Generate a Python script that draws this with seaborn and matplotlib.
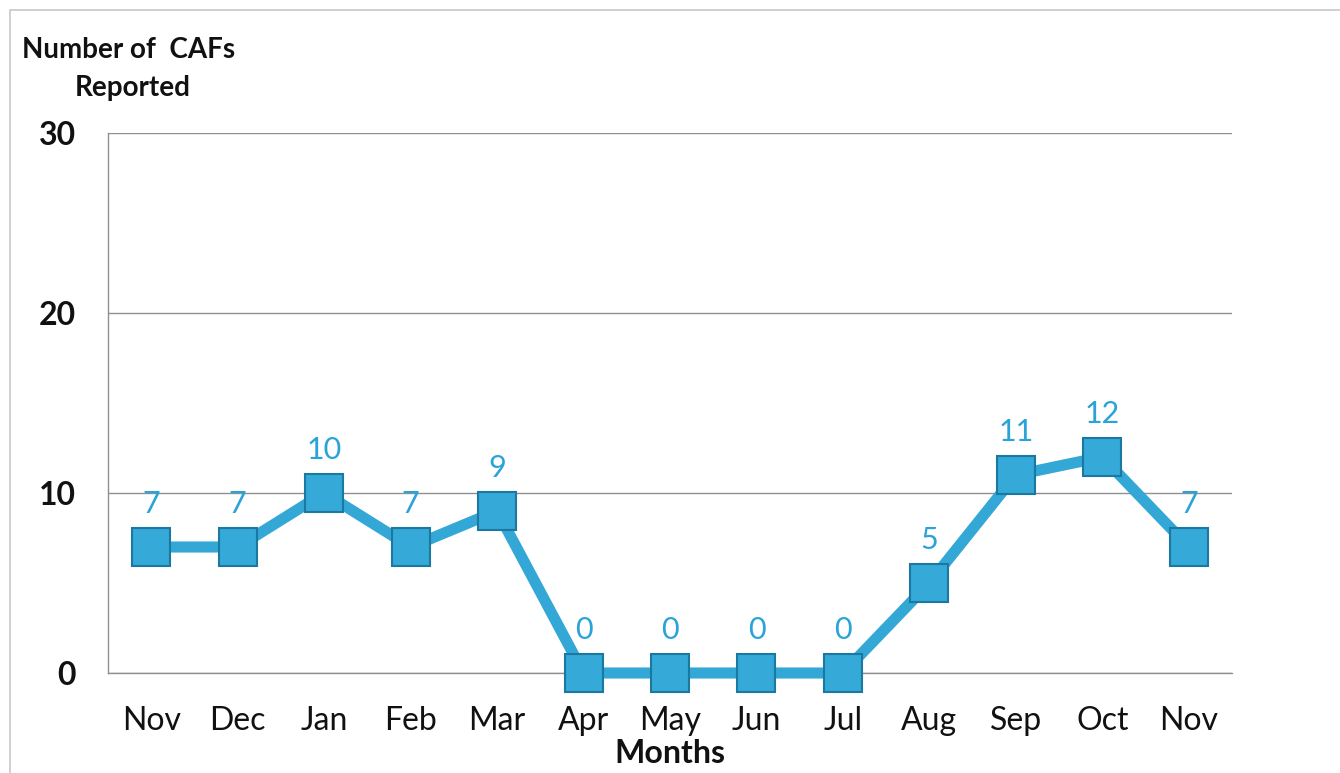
import matplotlib
matplotlib.use("Agg")
import matplotlib.pyplot as plt
import seaborn as sns
import pandas as pd
import numpy as np
from matplotlib.patches import Rectangle

months = ["Nov", "Dec", "Jan", "Feb", "Mar", "Apr", "May", "Jun", "Jul", "Aug", "Sep", "Oct", "Nov"]
cafs = [7, 7, 10, 7, 9, 0, 0, 0, 0, 5, 11, 12, 7]
y_ticks = [0, 10, 20, 30]

sns.set_theme(style="white")
plt.rcParams["font.family"] = ["Lato", "DejaVu Sans"]

df = pd.DataFrame({"pos": np.arange(len(months)), "month": months, "cafs": cafs})

fig = plt.figure(figsize=(13.4, 7.73), dpi=100)
fig.patch.set_facecolor("white")
fig.patches.append(Rectangle((10 / 1340, -0.01), 1.02, 1 - 10 / 773 + 0.01,
                             transform=fig.transFigure, fill=False,
                             edgecolor="#c8c8c8", linewidth=1.2))
ax = fig.add_axes([108 / 1340, 1 - 673 / 773, (1232 - 108) / 1340, (673 - 133) / 773])

line_color = "#33a8d6"
sns.lineplot(data=df, x="pos", y="cafs", ax=ax, color=line_color, linewidth=8,
             marker="s", markersize=27, markerfacecolor="#35a9d8",
             markeredgecolor="#1b78a0", markeredgewidth=1.5, zorder=3)
for ln in ax.lines:
    ln.set_clip_on(False)

for x, v in zip(df["pos"], df["cafs"]):
    ax.annotate(str(v), (x, v), xytext=(0, 21), textcoords="offset points",
                ha="center", va="bottom", fontsize=22, color="#2aa3d8", zorder=4)

ax.set_xlim(-0.5, len(months) - 0.5)
ax.set_ylim(0, 30)
ax.set_yticks(y_ticks)
ax.set_yticklabels([str(t) for t in y_ticks], fontsize=23, fontweight="bold", color="#111111")
ax.set_xticks(df["pos"])
ax.set_xticklabels(months, fontsize=23, color="#111111")
ax.set_xticks(np.arange(-0.5, len(months), 1), minor=True)
ax.tick_params(axis="x", which="major", length=0, pad=24)
ax.tick_params(axis="x", which="minor", length=8, width=1, color="#888888", direction="out")
ax.tick_params(axis="y", which="major", length=8, width=1, color="#888888", direction="out", pad=15)

ax.yaxis.grid(True, color="#909090", linewidth=1)
ax.xaxis.grid(False)
for side in ["top", "right"]:
    ax.spines[side].set_visible(False)
for side in ["left", "bottom"]:
    ax.spines[side].set_color("#909090")
    ax.spines[side].set_linewidth(1)
ax.set_axisbelow(True)

ax.set_xlabel("Months", fontsize=23, fontweight="bold", color="#111111", labelpad=2)
ax.set_ylabel("")
fig.text(22 / 1340, 1 - 50 / 773, "Number of  CAFs", fontsize=20, fontweight="bold",
         color="#111111", ha="left", va="center")
fig.text(133 / 1340, 1 - 88 / 773, "Reported", fontsize=20, fontweight="bold",
         color="#111111", ha="center", va="center")

fig.savefig("out.png", dpi=100, facecolor="white")
